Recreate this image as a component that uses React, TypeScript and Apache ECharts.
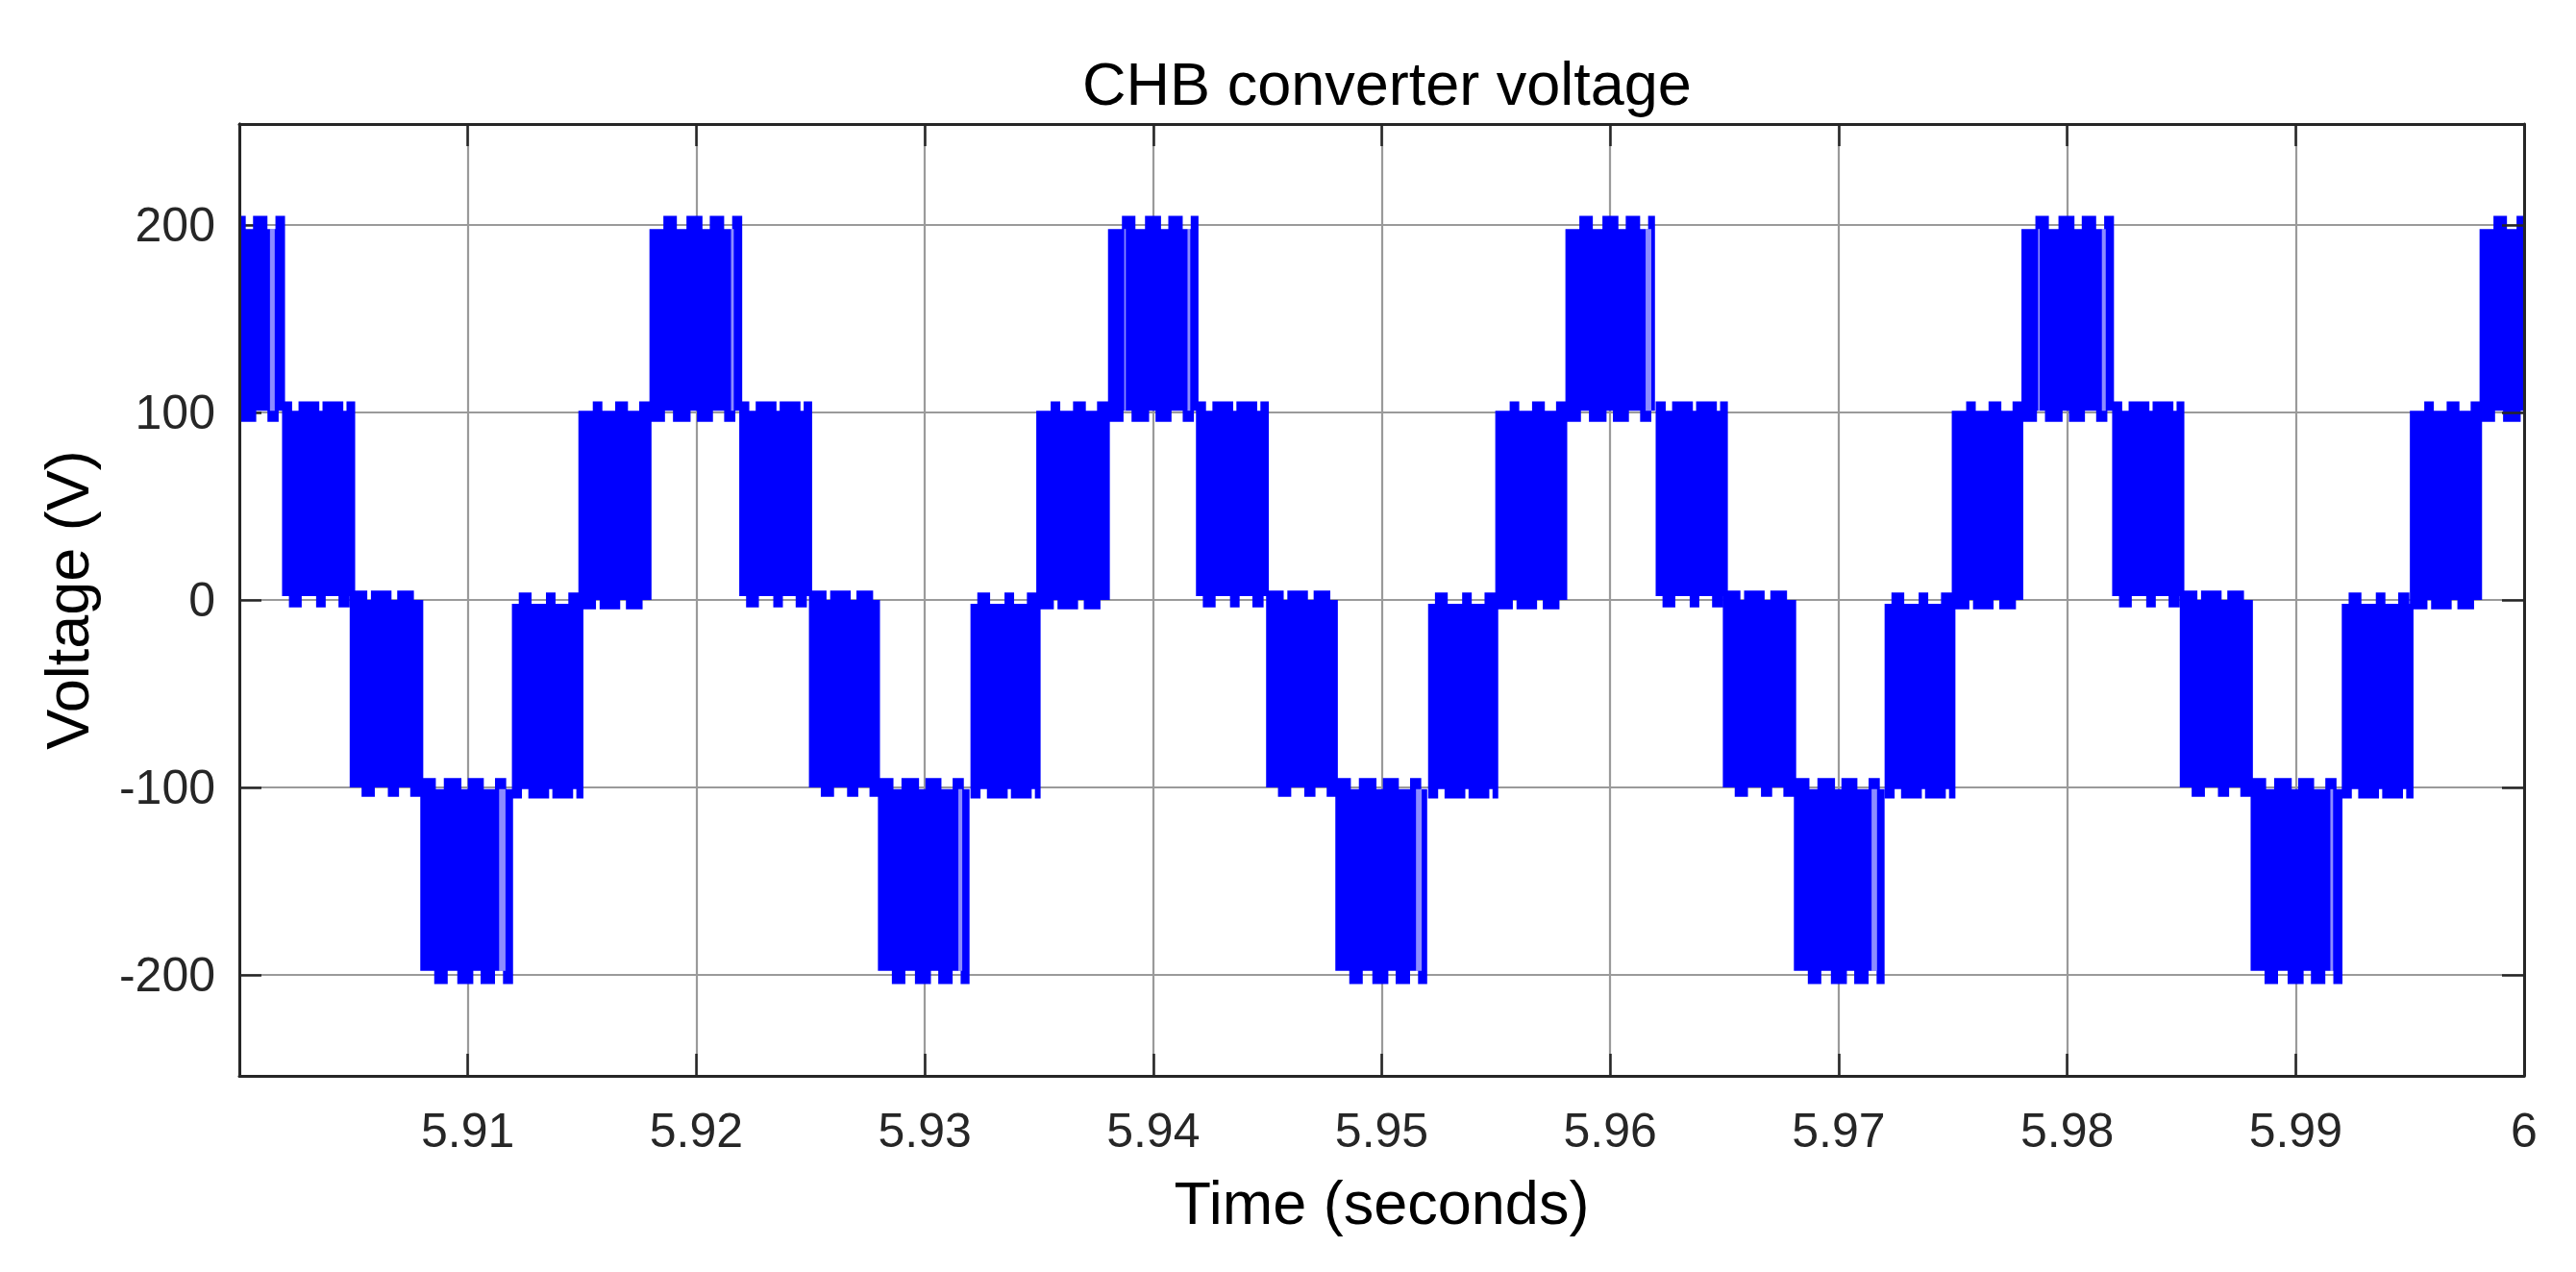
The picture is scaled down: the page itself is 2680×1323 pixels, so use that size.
import React, { useEffect, useRef } from 'react';
import * as echarts from 'echarts';

// ---- axes (time in milliseconds, voltage in volts) ----
const X_MIN = 5900;
const X_MAX = 6000;
const X_STEP = 10;
const Y_MIN = -254;
const Y_MAX = 254;
const yTickValues = [-200, -100, 0, 100, 200];

const titleText = 'CHB converter voltage';
const xName = 'Time (seconds)';
const yName = 'Voltage (V)';

// ---- edge notch profiles: [offset from band start (ms), level (V)] ----
const pTop = [[0, 198], [0.61, 205], [1.2, 198], [1.62, 205], [2.32, 198], [2.64, 205], [3.27, 198], [3.62, 205]];
const pBottom = [[0, 95], [0.68, 101], [1.03, 95], [1.8, 101], [2.08, 95], [2.78, 101], [3.27, 95], [3.76, 101]];
const nTop = [[0, -95], [0.68, -101], [1.03, -95], [1.8, -101], [2.08, -95], [2.78, -101], [3.27, -95], [3.76, -101]];
const nBottom = [[0, -198], [0.61, -205], [1.2, -198], [1.62, -205], [2.32, -198], [2.64, -205], [3.27, -198], [3.62, -205]];
const ufTop = [[0, 106], [0.44, 101], [0.72, 106], [1.63, 101], [1.77, 106], [2.68, 101], [2.82, 106]];
const ufBottom = [[0, 2], [0.3, -4], [0.86, 2], [1.49, -4], [1.91, 2], [2.47, -4], [2.96, 2]];
const urTop = [[0, 101], [0.63, 106], [1.05, 101], [1.61, 106], [2.17, 101], [2.66, 106]];
const urBottom = [[0, -5], [0.77, 0], [0.93, -5], [1.83, 0], [2.08, -5], [2.81, 0]];
const lfTop = [[0, 5], [0.77, 0], [0.93, 5], [1.83, 0], [2.08, 5], [2.81, 0]];
const lfBottom = [[0, -100], [0.52, -105], [1.1, -100], [1.67, -105], [2.16, -100], [2.65, -105]];
const lrTop = [[0, -2], [0.3, 4], [0.86, -2], [1.49, 4], [1.91, -2], [2.47, 4], [2.96, -2]];
const lrBottom = [[0, -106], [0.44, -101], [0.72, -106], [1.63, -101], [1.77, -106], [2.68, -101], [2.82, -106]];

// ---- switching bands (ms) ----
const bandKind = [
  'P', 'UF', 'LF', 'N', 'LR', 'UR',
  'P', 'UF', 'LF', 'N', 'LR', 'UR',
  'P', 'UF', 'LF', 'N', 'LR', 'UR',
  'P', 'UF', 'LF', 'N', 'LR', 'UR',
  'P', 'UF', 'LF', 'N', 'LR', 'UR',
  'P',
];
const bandStart = [
  5897.96, 5901.87, 5904.83, 5907.92, 5911.93, 5914.84,
  5917.95, 5921.88, 5924.93, 5927.95, 5932.0, 5934.88,
  5938.02, 5941.87, 5944.94, 5947.97, 5952.03, 5954.97,
  5958.04, 5961.99, 5964.93, 5968.04, 5972.01, 5974.95,
  5978.0, 5981.97, 5984.93, 5988.03, 5992.02, 5995.0,
  5998.05,
];
const bandEnd = [
  5902.0, 5905.07, 5908.05, 5911.98, 5915.06, 5918.04,
  5922.01, 5925.07, 5928.04, 5931.96, 5935.07, 5938.1,
  5941.98, 5945.06, 5948.08, 5951.99, 5955.1, 5958.12,
  5961.96, 5965.15, 5968.14, 5972.01, 5975.11, 5978.08,
  5982.05, 5985.13, 5988.13, 5992.05, 5995.16, 5998.16,
  6002.1,
];

// ---- lighter stripes inside the peak bands ----
const gapStart = [5901.34, 5911.37, 5921.52, 5931.47, 5938.73, 5941.5, 5951.5, 5961.55, 5971.44, 5978.73, 5981.52, 5991.52];
const gapEnd = [5901.55, 5911.65, 5921.64, 5931.64, 5938.8, 5941.62, 5951.75, 5961.8, 5971.68, 5978.8, 5981.69, 5991.64];
const gapLow = [101, -198, 101, -198, 101, 101, -198, 101, -198, 101, 101, -198];
const gapHigh = [198, -101, 198, -101, 198, 198, -101, 198, -101, 198, 198, -101];

const FONT = "'Liberation Sans', Arial, Helvetica, sans-serif";
const INK = '#262626';
const BLUE = '#0000ff';
const GRID = '#9a9a9a';

const profiles: Record<string, number[][][]> = {
  P: [pTop, pBottom],
  N: [nTop, nBottom],
  UF: [ufTop, ufBottom],
  UR: [urTop, urBottom],
  LF: [lfTop, lfBottom],
  LR: [lrTop, lrBottom],
};

function segments(steps: number[][], s: number, e: number) {
  const out: number[][] = [];
  for (let k = 0; k < steps.length; k++) {
    const t0 = s + steps[k][0];
    const t1 = k + 1 < steps.length ? Math.min(e, s + steps[k + 1][0]) : e;
    if (t1 <= t0) continue;
    out.push([t0, t1, steps[k][1]]);
  }
  return out;
}

const clampT = (t: number) => Math.min(X_MAX, Math.max(X_MIN, t));

export default function App() {
  const ref = useRef<HTMLDivElement>(null);

  useEffect(() => {
    document.body.style.margin = '0';
    if (!ref.current) return;
    const chart = echarts.init(ref.current, undefined, { renderer: 'svg' });

    const xLabel = (v: number) => (v === X_MIN ? '' : String(v / 1000));
    const yLabel = (v: number) => (yTickValues.indexOf(v) >= 0 ? String(v) : '');

    const boxLine = { show: true, onZero: false, lineStyle: { color: INK, width: 3 } };
    const tick = { show: true, inside: true, length: 23, lineStyle: { color: INK, width: 2.5 } };

    const baseX = { type: 'value', min: X_MIN, max: X_MAX, interval: X_STEP };
    const baseY = { type: 'value', min: Y_MIN, max: Y_MAX };

    const option: any = {
      animation: false,
      backgroundColor: '#ffffff',
      title: {
        text: titleText,
        left: 1438,
        top: 50,
        textAlign: 'center',
        textStyle: { fontFamily: FONT, fontSize: 63, fontWeight: 'normal', color: '#000' },
      },
      grid: { left: 249, right: 54, top: 129, bottom: 204, containLabel: false, outerBoundsMode: 'none' },
      xAxis: [
        {
          ...baseX,
          position: 'bottom',
          name: xName,
          nameLocation: 'middle',
          nameGap: 100,
          nameTextStyle: { fontFamily: FONT, fontSize: 63, color: '#000' },
          axisLine: boxLine,
          axisTick: tick,
          axisLabel: { formatter: xLabel, margin: 32, fontFamily: FONT, fontSize: 50, color: INK },
          splitLine: { show: true, lineStyle: { color: GRID, width: 2.2 } },
        },
        {
          ...baseX,
          position: 'top',
          z: 10,
          axisLine: boxLine,
          axisTick: tick,
          axisLabel: { show: false },
          splitLine: { show: false },
        },
      ],
      yAxis: [
        {
          ...baseY,
          position: 'left',
          name: yName,
          nameLocation: 'middle',
          nameGap: 148,
          nameTextStyle: { fontFamily: FONT, fontSize: 63, color: '#000' },
          axisLine: boxLine,
          axisTick: tick,
          axisLabel: { formatter: yLabel, margin: 25, fontFamily: FONT, fontSize: 50, color: INK },
          splitLine: { show: true, lineStyle: { color: GRID, width: 2.2 } },
        },
        {
          ...baseY,
          position: 'right',
          z: 10,
          axisLine: boxLine,
          axisTick: tick,
          axisLabel: { show: false },
          splitLine: { show: false },
        },
        {
          ...baseY,
          position: 'left',
          z: 10,
          axisLine: boxLine,
          axisTick: { show: false },
          axisLabel: { show: false },
          splitLine: { show: false },
        },
      ],
      series: [
        {
          type: 'custom',
          name: 'CHB voltage',
          xAxisIndex: 0,
          yAxisIndex: 0,
          z: 3,
          silent: true,
          encode: { x: [0, 1], y: 2 },
          data: bandStart.map((s, i) => [s, bandEnd[i], 0]),
          renderItem: (params: any, api: any) => {
            const i = params.dataIndex;
            const s = bandStart[i];
            const e = bandEnd[i];
            const [top, bot] = profiles[bandKind[i]];
            const pts: number[][] = [];
            segments(top, s, e).forEach(([t0, t1, v]) => {
              pts.push(api.coord([clampT(t0), v]));
              pts.push(api.coord([clampT(t1), v]));
            });
            segments(bot, s, e)
              .reverse()
              .forEach(([t0, t1, v]) => {
                pts.push(api.coord([clampT(t1), v]));
                pts.push(api.coord([clampT(t0), v]));
              });
            return { type: 'polygon', shape: { points: pts }, style: { fill: BLUE, stroke: null } };
          },
        },
        {
          type: 'custom',
          name: 'stripes',
          xAxisIndex: 0,
          yAxisIndex: 0,
          z: 4,
          silent: true,
          encode: { x: [0, 1], y: [2, 3] },
          data: gapStart.map((s, i) => [s, gapEnd[i], gapLow[i], gapHigh[i]]),
          renderItem: (params: any, api: any) => {
            const i = params.dataIndex;
            const p0 = api.coord([gapStart[i], gapHigh[i]]);
            const p1 = api.coord([gapEnd[i], gapLow[i]]);
            return {
              type: 'rect',
              shape: { x: p0[0], y: p0[1], width: p1[0] - p0[0], height: p1[1] - p0[1] },
              style: { fill: 'rgba(255,255,255,0.55)' },
            };
          },
        },
      ],
    };

    chart.setOption(option);
    return () => chart.dispose();
  }, []);

  return <div ref={ref} style={{ width: 2680, height: 1323 }} />;
}
